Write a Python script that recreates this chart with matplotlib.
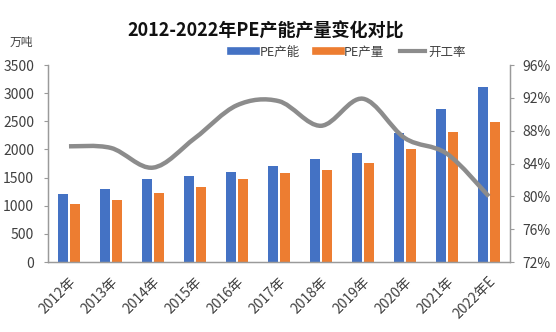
import matplotlib
matplotlib.use("Agg")
import matplotlib.pyplot as plt
import numpy as np
from matplotlib.path import Path
from matplotlib.patches import PathPatch
from matplotlib.lines import Line2D

plt.rcParams["font.family"] = ["Noto Sans CJK SC", "DejaVu Sans"]

years = ["2012年", "2013年", "2014年", "2015年", "2016年", "2017年",
         "2018年", "2019年", "2020年", "2021年", "2022年E"]
capacity = [1210, 1300, 1470, 1520, 1607, 1710, 1835, 1935, 2290, 2720, 3110]
output = [1037, 1103, 1220, 1330, 1472, 1578, 1637, 1767, 2000, 2318, 2496]
utilization = [86.1, 85.9, 83.5, 87.1, 91.1, 91.6, 88.6, 91.9, 87.1, 85.2, 80.0]

BLUE = "#4472C4"
ORANGE = "#ED7D31"
GRAY = "#8C8C8C"
TEXT = "#404040"


def smooth_path(xs, ys, tension=1 / 6):
    # Bezier curve through every point, like a spreadsheet "smoothed line"
    pts = np.column_stack([xs, ys])
    verts = [pts[0]]
    codes = [Path.MOVETO]
    n = len(pts)
    for i in range(n - 1):
        p0 = pts[max(i - 1, 0)]
        p1 = pts[i]
        p2 = pts[i + 1]
        p3 = pts[min(i + 2, n - 1)]
        c1 = p1 + (p2 - p0) * tension
        c2 = p2 - (p3 - p1) * tension
        verts += [c1, c2, p2]
        codes += [Path.CURVE4] * 3
    return Path(verts, codes)


fig = plt.figure(figsize=(5.56, 3.32), dpi=100)
ax = fig.add_axes([0.0863, 0.2108, 0.8307, 0.5932])
ax2 = ax.twinx()

x = np.arange(len(years))
w = 0.24
ax.bar(x - 0.145, capacity, width=w, color=BLUE, zorder=2)
ax.bar(x + 0.145, output, width=w, color=ORANGE, zorder=2)

path = smooth_path(x, utilization)
ax2.add_patch(PathPatch(path, facecolor="none", edgecolor=GRAY, lw=3.2,
                        capstyle="butt", zorder=3))

ax.set_xlim(-0.5, len(years) - 0.5)
ax.set_ylim(0, 3500)
ax.set_yticks(np.arange(0, 3501, 500))
ax2.set_ylim(72, 96)
ax2.set_yticks(np.arange(72, 97, 4))
ax2.set_yticklabels([f"{v}%" for v in range(72, 97, 4)])

ax.set_xticks(x)
ax.set_xticklabels(years, rotation=45, ha="right", rotation_mode="anchor")

for a in (ax, ax2):
    a.spines["top"].set_visible(False)
    for s in ("left", "right", "bottom"):
        a.spines[s].set_color("#9A9A9A")
        a.spines[s].set_linewidth(0.9)
    a.tick_params(colors="#9A9A9A", labelcolor=TEXT, labelsize=10, length=3)
ax.tick_params(axis="y", pad=7)
ax2.tick_params(axis="y", pad=6)
ax.tick_params(axis="x", length=0, pad=9)
ax.set_facecolor("none")
ax.set_zorder(ax2.get_zorder() - 1)
ax2.patch.set_visible(False)

fig.text(0.477, 0.907, "2012-2022年PE产能产量变化对比", ha="center", va="center",
         fontsize=13, fontweight="bold", color="#111111")
fig.text(0.018, 0.872, "万吨", ha="left", va="center", fontsize=8.5, color=TEXT)

handles = [
    Line2D([], [], color=BLUE, lw=5.5),
    Line2D([], [], color=ORANGE, lw=5.5),
    Line2D([], [], color=GRAY, lw=3),
]
fig.legend(handles, ["PE产能", "PE产量", "开工率"], loc="center",
           bbox_to_anchor=(0.627, 0.843), ncol=3, frameon=False,
           fontsize=9, handlelength=2.0, handletextpad=0.25, columnspacing=1.3,
           labelcolor=TEXT)

fig.savefig("out.png", dpi=100)
